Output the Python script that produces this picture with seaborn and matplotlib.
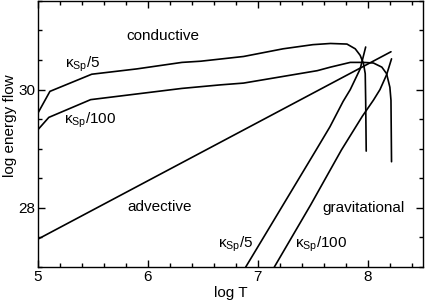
import pandas as pd
import matplotlib
matplotlib.use("Agg")
import matplotlib.pyplot as plt
import seaborn as sns
from matplotlib.ticker import MultipleLocator

# curves (x = log T, y = log energy flow)
cond5_logT = [5.00, 5.11, 5.49, 5.90, 6.31, 6.48, 6.87, 7.23, 7.50, 7.66, 7.81, 7.885, 7.93, 7.96, 7.976, 7.98, 7.985]
cond5_flow = [29.60, 29.97, 30.26, 30.35, 30.46, 30.48, 30.56, 30.69, 30.76, 30.78, 30.77, 30.69, 30.58, 30.44, 30.27, 29.82, 28.96]

cond100_logT = [5.00, 5.10, 5.48, 6.31, 6.66, 6.87, 7.54, 7.66, 7.84, 7.96, 8.05, 8.127, 8.17, 8.20, 8.21, 8.215]
cond100_flow = [29.32, 29.53, 29.83, 30.02, 30.08, 30.11, 30.32, 30.38, 30.46, 30.46, 30.45, 30.38, 30.27, 30.04, 29.82, 28.78]

adv_logT = [5.00, 8.21]
adv_flow = [27.47, 30.64]

grav5_logT = [6.89, 7.53, 7.655, 7.775, 7.84, 7.93, 7.98]
grav5_flow = [27.00, 28.98, 29.37, 29.80, 30.00, 30.35, 30.72]

grav100_logT = [7.15, 7.48, 7.76, 7.95, 8.05, 8.11, 8.17, 8.215]
grav100_flow = [27.00, 28.05, 28.98, 29.55, 29.82, 30.00, 30.25, 30.52]

frames = []
for name, xs, ys in [("cond5", cond5_logT, cond5_flow),
                     ("cond100", cond100_logT, cond100_flow),
                     ("adv", adv_logT, adv_flow),
                     ("grav5", grav5_logT, grav5_flow),
                     ("grav100", grav100_logT, grav100_flow)]:
    frames.append(pd.DataFrame({"logT": xs, "flow": ys, "curve": name}))
df = pd.concat(frames, ignore_index=True)

sns.set_style("ticks")
plt.rcParams["font.family"] = ["Liberation Sans", "DejaVu Sans"]
plt.rcParams["mathtext.fontset"] = "custom"
plt.rcParams["mathtext.rm"] = "Liberation Sans"
plt.rcParams["mathtext.it"] = "Liberation Sans"
plt.rcParams["text.color"] = "black"
plt.rcParams["axes.labelcolor"] = "black"
plt.rcParams["xtick.color"] = "black"
plt.rcParams["ytick.color"] = "black"

fig = plt.figure(figsize=(4.25, 3.02), dpi=100)
ax = fig.add_axes([0.089, 0.116, 0.906, 0.881])

sns.lineplot(data=df, x="logT", y="flow", units="curve", estimator=None,
             sort=False, color="black", linewidth=1.2, ax=ax)

ax.set_xlim(5, 8.5)
ax.set_ylim(27, 31.5)
ax.xaxis.set_major_locator(MultipleLocator(1))
ax.xaxis.set_minor_locator(MultipleLocator(0.2))
ax.yaxis.set_major_locator(MultipleLocator(2))
ax.yaxis.set_minor_locator(MultipleLocator(0.5))
ax.tick_params(which="both", direction="in", top=True, right=True,
               labelsize=11, width=1.0)
ax.tick_params(which="major", length=5, pad=2)
ax.tick_params(which="minor", length=3)
for sp in ax.spines.values():
    sp.set_linewidth(1.0)
    sp.set_color("black")

ax.set_xlabel("log T", fontsize=11, va="center")
ax.set_ylabel("log energy flow", fontsize=11, va="center")
ax.xaxis.set_label_coords(0.5, -0.098)
ax.yaxis.set_label_coords(-0.072, 0.53)

fs = 11
ax.text(6.14, 30.91, "conductive", fontsize=fs, ha="center", va="center")
ax.text(6.11, 28.01, "advective", fontsize=fs, ha="center", va="center")
ax.text(7.96, 28.0, "gravitational", fontsize=fs, ha="center", va="center")
ax.text(5.41, 30.42, r"$\mathrm{κ_{Sp}}$/5", fontsize=fs, ha="center", va="center")
ax.text(5.48, 29.48, r"$\mathrm{κ_{Sp}}$/100", fontsize=fs, ha="center", va="center")
ax.text(6.80, 27.38, r"$\mathrm{κ_{Sp}}$/5", fontsize=fs, ha="center", va="center")
ax.text(7.58, 27.38, r"$\mathrm{κ_{Sp}}$/100", fontsize=fs, ha="center", va="center")

fig.savefig("out.png", dpi=100)
